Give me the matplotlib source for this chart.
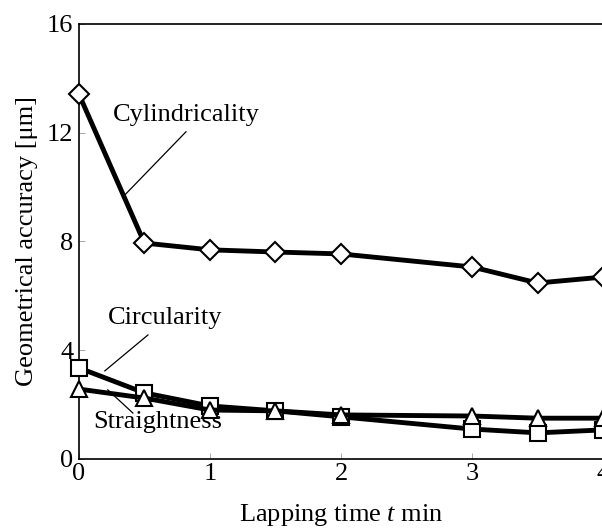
import matplotlib
matplotlib.use('Agg')
import matplotlib.pyplot as plt

plt.rcParams['font.family'] = ['Liberation Serif', 'DejaVu Serif']
plt.rcParams['mathtext.fontset'] = 'custom'
plt.rcParams['mathtext.it'] = 'Liberation Serif:italic'
plt.rcParams['mathtext.rm'] = 'Liberation Serif'

time = [0, 0.5, 1, 1.5, 2, 3, 3.5, 4]
cylindricality = [13.42, 7.94, 7.69, 7.61, 7.54, 7.06, 6.47, 6.69]
circularity = [3.35, 2.43, 1.95, 1.77, 1.55, 1.10, 0.96, 1.07]
straightness = [2.57, 2.24, 1.80, 1.77, 1.62, 1.58, 1.50, 1.50]

fs = 19

fig = plt.figure(figsize=(6.02, 5.30), dpi=100)
ax = fig.add_axes([0.131, 0.134, 0.871, 0.821])

style = dict(color='black', lw=3.5, markerfacecolor='white',
             markeredgecolor='black', markeredgewidth=1.5, clip_on=False)
ax.plot(time, circularity, marker='s', markersize=11.5, zorder=3, **style)
ax.plot(time, straightness, marker='^', markersize=12, zorder=4, **style)
ax.plot(time, cylindricality, marker='D', markersize=10, zorder=5, **style)

ax.set_xlim(0, 4)
ax.set_ylim(0, 16)
ax.set_xticks([0, 1, 2, 3, 4])
ax.set_yticks([0, 4, 8, 12, 16])
ax.tick_params(direction='in', length=4, width=0.6, color='#999999',
               labelsize=fs)
ax.tick_params(axis='x', pad=3)
ax.tick_params(axis='y', pad=4)
for s in ax.spines.values():
    s.set_linewidth(1.2)

ax.set_xlabel('Lapping time $t$ min', fontsize=fs, labelpad=12)
ax.set_ylabel('Geometrical accuracy [μm]', fontsize=fs, labelpad=6)

# callout labels with thin pointer lines
ax.text(0.82, 12.65, 'Cylindricality', fontsize=fs, ha='center', va='center')
ax.plot([0.817, 0.351], [12.03, 9.71], color='black', lw=0.9)
ax.text(0.66, 5.19, 'Circularity', fontsize=fs, ha='center', va='center')
ax.plot([0.527, 0.198], [4.56, 3.24], color='black', lw=0.9)
ax.text(0.60, 1.36, 'Straightness', fontsize=fs, ha='center', va='center')
ax.plot([0.221, 0.412], [2.54, 1.69], color='black', lw=0.9)

fig.savefig('out.png', dpi=100)
